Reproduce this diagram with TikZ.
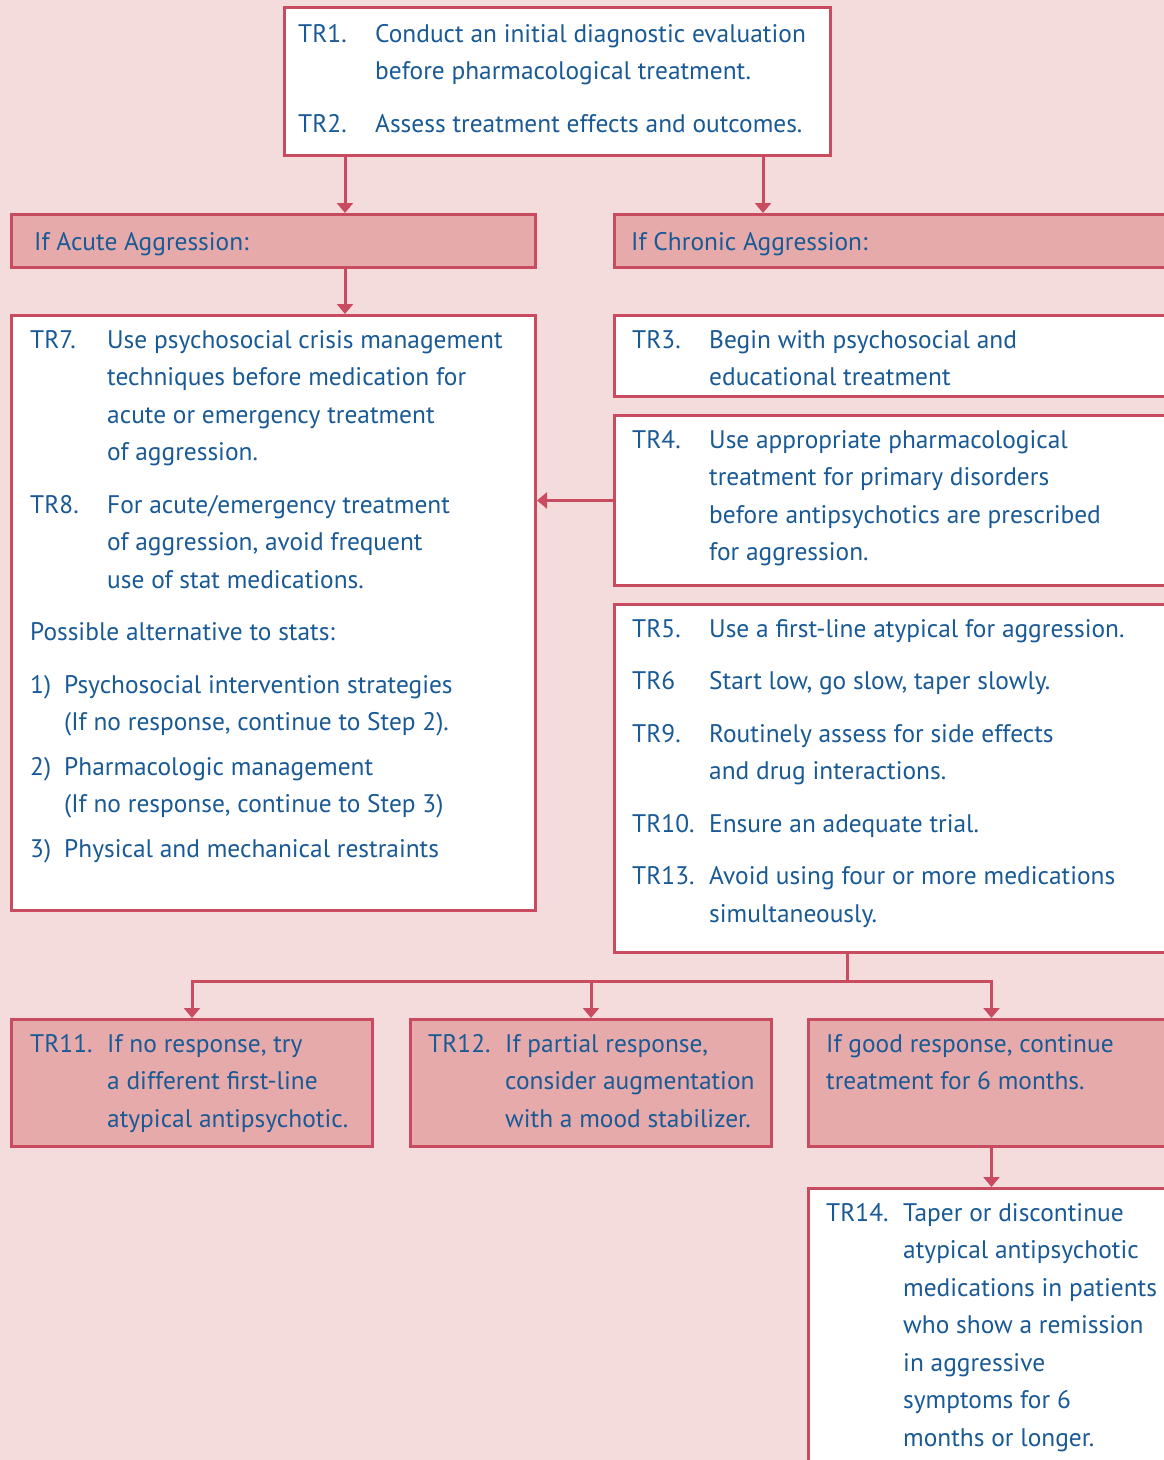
\documentclass[tikz,border=0pt]{standalone}
\usepackage{fontspec}
\newfontfamily\trfont{PT Sans}
\usetikzlibrary{arrows.meta}
\definecolor{trbg}{HTML}{F4DCDC}
\definecolor{trred}{HTML}{C84B5F}
\definecolor{trpink}{HTML}{E6AAAA}
\definecolor{trblue}{HTML}{195A96}
\newcommand\tritem[3][77pt]{\par\hangindent=#1\hangafter=1\noindent\makebox[#1][l]{#2}#3\par}
\newcommand\txtbox[1]{\parbox[t]{540pt}{\setlength\parskip{15pt}#1}}
\tikzset{
  box/.style={draw=trred, line width=3pt, fill=white, inner sep=0pt, anchor=north west},
  headbox/.style={box, fill=trpink},
  txt/.style={anchor=base west, inner sep=0pt, text=trblue, font={\trfont\fontsize{25.4}{37.5}\selectfont}},
  arr/.style={draw=trred, line width=3pt, -{Triangle[width=16pt,length=10pt]}}
}
\begin{document}
\begin{tikzpicture}[x=1pt,y=1pt]
  \useasboundingbox (0,0) rectangle (1164,-1460);
  \clip (0,0) rectangle (1164,-1460);
  \fill[trbg] (0,0) rectangle (1164,-1460);

  \node[box, minimum width=546pt, minimum height=148pt] (tri) at (283,-6) {};
  \node[headbox, minimum width=524pt, minimum height=53pt] (acute) at (10,-213) {};
  \node[headbox, minimum width=570pt, minimum height=53pt] (chronic) at (613,-213) {};
  \node[box, minimum width=524pt, minimum height=595pt] (tr7) at (10,-314) {};
  \node[box, minimum width=570pt, minimum height=81pt] (tr3) at (613,-314) {};
  \node[box, minimum width=570pt, minimum height=170pt] (tr4) at (613,-414) {};
  \node[box, minimum width=570pt, minimum height=348pt] (tr5) at (613,-603) {};
  \node[headbox, minimum width=361pt, minimum height=127pt] (tr11) at (10,-1018) {};
  \node[headbox, minimum width=361pt, minimum height=127pt] (tr12) at (409,-1018) {};
  \node[headbox, minimum width=366pt, minimum height=127pt] (good) at (807,-1018) {};
  \node[box, minimum width=366pt, minimum height=300pt] (tr14) at (807,-1187) {};

  \node[txt] (tritxt) at ([xshift=15pt,yshift=-36pt]tri.north west) {\txtbox{%
    \tritem{TR1.}{Conduct an initial diagnostic evaluation\\before pharmacological treatment.}
    \tritem{TR2.}{Assess treatment effects and outcomes.}}};
  \node[txt] (acutetxt) at ([xshift=24pt,yshift=-37pt]acute.north west) {If Acute Aggression:};
  \node[txt] (chronictxt) at ([xshift=18pt,yshift=-37pt]chronic.north west) {If Chronic Aggression:};
  \node[txt] (tr7txt) at ([xshift=20pt,yshift=-34pt]tr7.north west) {\txtbox{%
    \tritem{TR7.}{Use psychosocial crisis management\\techniques before medication for\\acute or emergency treatment\\of aggression.}
    \tritem{TR8.}{For acute/emergency treatment\\of aggression, avoid frequent\\use of stat medications.}
    \par\noindent Possible alternative to stats:\par
    \tritem[34pt]{1)}{Psychosocial intervention strategies\\(If no response, continue to Step 2).}
    \vspace{-8pt}
    \tritem[34pt]{2)}{Pharmacologic management\\(If no response, continue to Step 3)}
    \vspace{-8pt}
    \tritem[34pt]{3)}{Physical and mechanical restraints}}};
  \node[txt] (tr3txt) at ([xshift=19pt,yshift=-34pt]tr3.north west) {\txtbox{%
    \tritem{TR3.}{Begin with psychosocial and\\educational treatment}}};
  \node[txt] (tr4txt) at ([xshift=19pt,yshift=-34pt]tr4.north west) {\txtbox{%
    \tritem{TR4.}{Use appropriate pharmacological\\treatment for primary disorders\\before antipsychotics are prescribed\\for aggression.}}};
  \node[txt] (tr5txt) at ([xshift=19pt,yshift=-34pt]tr5.north west) {\txtbox{%
    \tritem{TR5.}{Use a first-line atypical for aggression.}
    \tritem{TR6}{Start low, go slow, taper slowly.}
    \tritem{TR9.}{Routinely assess for side effects\\and drug interactions.}
    \tritem{TR10.}{Ensure an adequate trial.}
    \tritem{TR13.}{Avoid using four or more medications\\simultaneously.}}};
  \node[txt] (tr11txt) at ([xshift=20pt,yshift=-34pt]tr11.north west) {\txtbox{%
    \tritem{TR11.}{If no response, try\\a different first-line\\atypical antipsychotic.}}};
  \node[txt] (tr12txt) at ([xshift=19pt,yshift=-34pt]tr12.north west) {\txtbox{%
    \tritem{TR12.}{If partial response,\\consider augmentation\\with a mood stabilizer.}}};
  \node[txt] (goodtxt) at ([xshift=19pt,yshift=-34pt]good.north west) {\txtbox{%
    If good response, continue\\treatment for 6 months.}};
  \node[txt] (tr14txt) at ([xshift=19pt,yshift=-34pt]tr14.north west) {\txtbox{%
    \tritem{TR14.}{Taper or discontinue\\atypical antipsychotic\\medications in patients\\who show a remission\\in aggressive\\symptoms for 6\\months or longer.}}};

  \coordinate (a1) at (345,0);
  \coordinate (c1) at (763,0);
  \coordinate (split) at (847,-981);
  \draw[arr] (tri.south -| a1) -- (acute.north -| a1);
  \draw[arr] (tri.south -| c1) -- (chronic.north -| c1);
  \draw[arr] (acute.south -| a1) -- (tr7.north -| a1);
  \draw[arr] (tr4.west) -- (tr4.west -| tr7.east);
  \draw[draw=trred, line width=3pt] (tr5.south -| split) -- (split);
  \draw[arr] (split) -| (tr11.north);
  \draw[arr] (split) -| (tr12.north);
  \draw[arr] (split) -| (good.north);
  \draw[arr] (good.south) -- (tr14.north);
\end{tikzpicture}
\end{document}
